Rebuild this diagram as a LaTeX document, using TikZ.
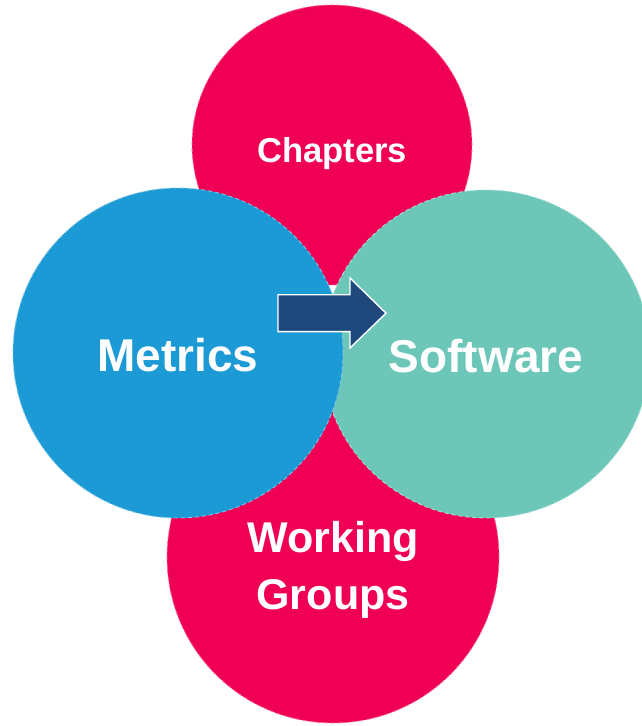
\documentclass[tikz,border=0pt]{standalone}
\usepackage{fontspec}
\setmainfont{Liberation Sans}
\usepackage{tikz}
\usetikzlibrary{positioning}
\definecolor{myred}{RGB}{239,0,85}
\definecolor{myblue}{RGB}{27,154,214}
\definecolor{myteal}{RGB}{108,199,185}
\definecolor{myarrow}{RGB}{31,73,125}

\tikzset{
    blob/.style={circle, densely dashed, line width=0.6pt, inner sep=0pt},
    blobtext/.style={text=white, font=\bfseries, align=center}
}

\begin{document}
\begin{tikzpicture}
    \useasboundingbox (0,0) rectangle (16.05,18.15);
    % Circles, back to front
    \node[blob, fill=myred, draw=myred!55!white, minimum size=8.3cm] (groups) at (8.325,4.225) {};
    \node[blob, fill=myred, draw=myred!55!white, minimum size=7cm] (chapters) at (8.3,14.525) {};
    \node[blob, fill=myteal, draw=myteal!55!white, minimum size=8.2cm] (software) at (12.15,9.3) {};
    \node[blob, fill=myblue, draw=myblue!55!white, minimum size=8.25cm] (metrics) at (4.45,9.325) {};

    % Labels
    \node[blobtext, font=\fontsize{24.6}{30}\bfseries] at ([yshift=-0.22cm]chapters.center) {Chapters};
    \node[blobtext, font=\fontsize{32.7}{40}\bfseries] at ([yshift=-0.05cm]metrics.center) {Metrics};
    \node[blobtext, font=\fontsize{32.7}{40}\bfseries] at ([yshift=-0.05cm]software.center) {Software};
    \node[blobtext, font=\fontsize{30.6}{40.5}\bfseries] at ([yshift=-0.32cm]groups.center) {Working\\Groups};

    % Arrow from Metrics to Software
    \draw[fill=myarrow, draw=white, line width=1pt, line join=miter]
        (6.95,10.78) -- (8.75,10.78) -- (8.75,11.2) -- (9.65,10.32)
        -- (8.75,9.45) -- (8.75,9.86) -- (6.95,9.86) -- cycle;
\end{tikzpicture}
\end{document}
